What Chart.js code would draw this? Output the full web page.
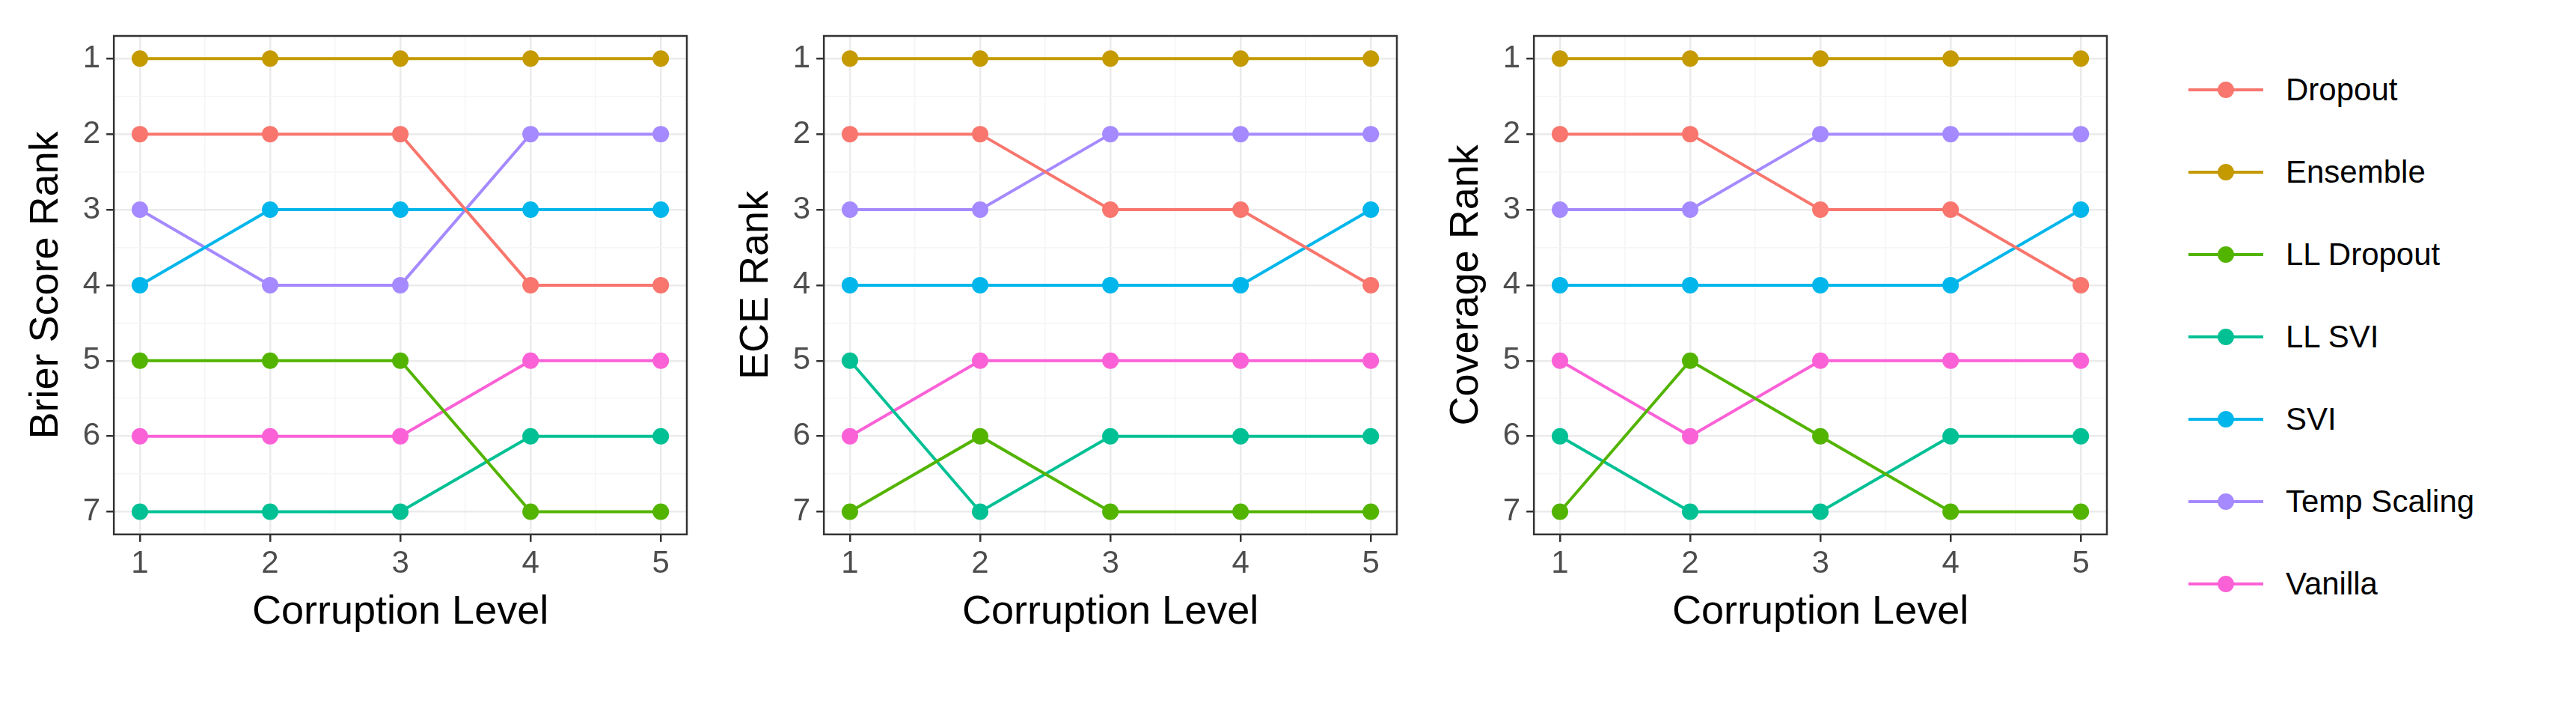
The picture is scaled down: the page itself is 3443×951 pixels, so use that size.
<!DOCTYPE html>
<html>
<head>
<meta charset="utf-8">
<script src="https://cdn.jsdelivr.net/npm/chart.js@4.4.1/dist/chart.umd.min.js"></script>
<style>
body { margin:0; background:#fff; width:3443px; height:951px; position:relative; overflow:hidden; font-family:"Liberation Sans", Arial, sans-serif; }
canvas { position:absolute; top:0; }
#legend { position:absolute; left:2925px; top:65px; }
.item { height:110px; display:flex; align-items:center; font-size:42px; color:#000; }
.sw { width:100px; height:72px; position:relative; margin-right:30px; }
.sw .ln { position:absolute; left:0; right:0; top:34px; height:4px; }
.sw .dt { position:absolute; left:39px; top:25px; width:22px; height:22px; border-radius:50%; }
</style>
</head>
<body>
<canvas id="c1"></canvas>
<canvas id="c2"></canvas>
<canvas id="c3"></canvas>
<div id="legend"></div>
<script>
var levels = [1, 2, 3, 4, 5];
var methods = ["Dropout", "Ensemble", "LL Dropout", "LL SVI", "SVI", "Temp Scaling", "Vanilla"];
var colors = ["#F8766D", "#C49A00", "#53B400", "#00C094", "#00B6EB", "#A58AFF", "#FB61D7"];

var brierRank = [
	[2, 2, 2, 4, 4],
	[1, 1, 1, 1, 1],
	[5, 5, 5, 7, 7],
	[7, 7, 7, 6, 6],
	[4, 3, 3, 3, 3],
	[3, 4, 4, 2, 2],
	[6, 6, 6, 5, 5]
];
var eceRank = [
	[2, 2, 3, 3, 4],
	[1, 1, 1, 1, 1],
	[7, 6, 7, 7, 7],
	[5, 7, 6, 6, 6],
	[4, 4, 4, 4, 3],
	[3, 3, 2, 2, 2],
	[6, 5, 5, 5, 5]
];
var coverageRank = [
	[2, 2, 3, 3, 4],
	[1, 1, 1, 1, 1],
	[7, 5, 6, 7, 7],
	[6, 7, 7, 6, 6],
	[4, 4, 4, 4, 3],
	[3, 3, 2, 2, 2],
	[5, 6, 5, 5, 5]
];
var xTicks = [1, 1.5, 2, 2.5, 3, 3.5, 4, 4.5, 5];
var yTicks = [1, 1.5, 2, 2.5, 3, 3.5, 4, 4.5, 5, 5.5, 6, 6.5, 7];

var borderPlugin = {
	id: 'panelBorder',
	afterDraw: function(chart) {
		var a = chart.chartArea, ctx = chart.ctx;
		ctx.save();
		ctx.strokeStyle = '#333';
		ctx.lineWidth = 2.5;
		ctx.strokeRect(a.left, a.top, a.right - a.left, a.bottom - a.top);
		ctx.restore();
	}
};

function isMajor(v) { return Math.abs(v - Math.round(v)) < 1e-6; }

function makeChart(id, left, yTitle, ranks) {
	var cv = document.getElementById(id);
	cv.style.left = left + 'px';
	cv.width = 940; cv.height = 951;
	cv.style.width = '940px'; cv.style.height = '951px';
	var datasets = [];
	for (var i = 0; i < methods.length; i++) {
		datasets.push({
			label: methods[i],
			data: levels.map(function(l, j) { return {x: l, y: ranks[i][j]}; }),
			borderColor: colors[i],
			backgroundColor: colors[i],
			borderWidth: 4,
			pointRadius: 11,
			pointBorderWidth: 0,
			tension: 0
		});
	}
	var gridOpt = {
		color: function(c) { return isMajor(c.tick.value) ? '#EBEBEB' : '#F5F5F5'; },
		lineWidth: function(c) { return isMajor(c.tick.value) ? 2.5 : 1.5; },
		tickColor: function(c) { return isMajor(c.tick.value) ? '#333' : 'rgba(0,0,0,0)'; },
		tickLength: 10,
		drawTicks: true
	};
	new Chart(cv.getContext('2d'), {
		type: 'line',
		data: { datasets: datasets },
		plugins: [borderPlugin],
		options: {
			responsive: false,
			animation: false,
			layout: { padding: { top: 48, right: 22, left: 30, bottom: 100 } },
			plugins: { legend: { display: false }, tooltip: { enabled: false } },
			scales: {
				x: {
					type: 'linear', min: 0.8, max: 5.2,
					afterBuildTicks: function(s) { s.ticks = xTicks.map(function(v) { return {value: v}; }); },
					grid: gridOpt,
					border: { display: false },
					ticks: { autoSkip: false, maxRotation: 0, padding: 4, color: '#4D4D4D', font: { size: 42, family: 'Liberation Sans' },
						callback: function(v) { return isMajor(v) ? String(v) : ''; } },
					title: { display: true, text: 'Corruption Level', color: '#000', font: { size: 54, family: 'Liberation Sans' }, padding: { top: 4, bottom: 0 } }
				},
				y: {
					type: 'linear', min: 0.7, max: 7.3, reverse: true,
					afterBuildTicks: function(s) { s.ticks = yTicks.map(function(v) { return {value: v}; }); },
					grid: gridOpt,
					border: { display: false },
					ticks: { autoSkip: false, padding: 8, color: '#4D4D4D', font: { size: 42, family: 'Liberation Sans' },
						callback: function(v) { return isMajor(v) ? String(v) : ''; } },
					title: { display: true, text: yTitle, color: '#000', font: { size: 54, family: 'Liberation Sans' }, padding: { top: 0, bottom: 8 } }
				}
			}
		}
	});
}

makeChart('c1', 0, 'Brier Score Rank', brierRank);
makeChart('c2', 949, 'ECE Rank', eceRank);
makeChart('c3', 1898, 'Coverage Rank', coverageRank);

var lg = document.getElementById('legend');
for (var i = 0; i < methods.length; i++) {
	var d = document.createElement('div');
	d.className = 'item';
	d.innerHTML = '<div class="sw"><div class="ln" style="background:' + colors[i] + '"></div><div class="dt" style="background:' + colors[i] + '"></div></div>' + methods[i];
	lg.appendChild(d);
}
</script>
</body>
</html>
